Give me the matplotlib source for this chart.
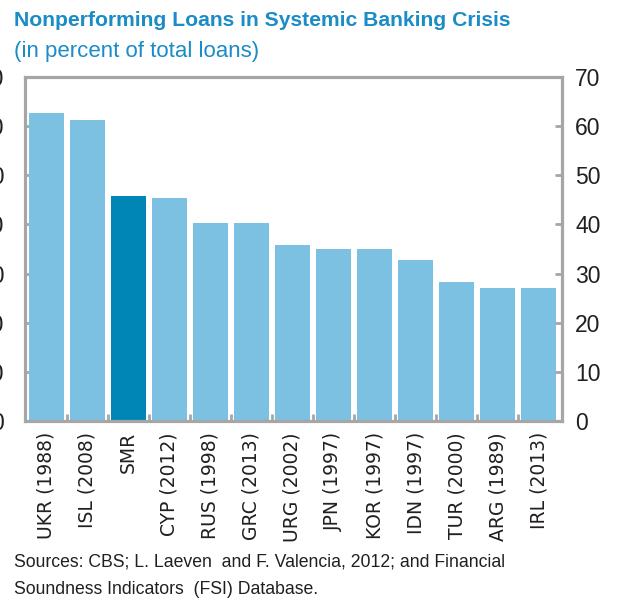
import matplotlib
matplotlib.use("Agg")
import matplotlib.pyplot as plt
import numpy as np

categories = ["UKR (1988)", "ISL (2008)", "SMR", "CYP (2012)", "RUS (1998)",
              "GRC (2013)", "URG (2002)", "JPN (1997)", "KOR (1997)",
              "IDN (1997)", "TUR (2000)", "ARG (1989)", "IRL (2013)"]
npl_share = [62.7, 61.2, 45.8, 45.3, 40.2, 40.2, 35.8, 34.9, 34.9, 32.8, 28.2, 27.1, 27.1]
y_ticks = [0, 10, 20, 30, 40, 50, 60, 70]
highlight = "SMR"

light_blue = "#7cc0e2"
dark_blue = "#0086b6"
title_blue = "#1a8cc6"
frame_gray = "#a6a6a6"
text_dark = "#231f20"

narrow = ["Liberation Sans Narrow", "Liberation Sans", "DejaVu Sans"]

fig = plt.figure(figsize=(6.21, 6.03), dpi=100)
ax = fig.add_axes([25 / 621, 1 - 421 / 603, (562 - 25) / 621, (421 - 77) / 603])

x = np.arange(len(categories))
colors = [dark_blue if c == highlight else light_blue for c in categories]
ax.bar(x, npl_share, width=0.86, color=colors, zorder=2)

ax.set_xlim(-0.52, len(categories) - 0.43)
ax.set_ylim(0, 70)

for s in ax.spines.values():
    s.set_color(frame_gray)
    s.set_linewidth(2.3)
    s.set_zorder(3)

# left scale (runs off the figure edge)
ax.set_yticks(y_ticks)
ax.set_yticklabels([str(v) for v in y_ticks], family=narrow)
ax.tick_params(axis="y", direction="in", length=5, width=2, color=frame_gray,
               left=True, labelsize=16.5, labelcolor=text_dark, pad=15)

# right scale
ax_r = ax.twinx()
ax_r.set_ylim(ax.get_ylim())
ax_r.set_yticks(y_ticks)
ax_r.set_yticklabels([str(v) for v in y_ticks], family=narrow)
ax_r.tick_params(axis="y", direction="in", length=5, width=2, color=frame_gray,
                 right=True, labelsize=16.5, labelcolor=text_dark, pad=9.5)
for s in ax_r.spines.values():
    s.set_visible(False)

ax.set_xticks(x)
ax.set_xticklabels(categories, rotation=90, fontsize=13.5, color=text_dark,
                   family=["DejaVu Sans"])
ax.tick_params(axis="x", which="major", length=0, pad=8)
ax.set_xticks(x[:-1] + 0.5, minor=True)
ax.tick_params(axis="x", which="minor", direction="in", length=5, width=2,
               color=frame_gray)

fig.text(14 / 621, 1 - 20 / 603, "Nonperforming Loans in Systemic Banking Crisis",
         fontsize=15.2, fontweight="bold", color=title_blue, family=narrow,
         va="center", ha="left")
fig.text(14 / 621, 1 - 52 / 603, "(in percent of total loans)",
         fontsize=16, color=title_blue, family=narrow, va="center", ha="left")

fig.text(14 / 621, 1 - 562 / 603,
         "Sources: CBS; L. Laeven  and F. Valencia, 2012; and Financial",
         fontsize=12.7, color=text_dark, family=["Liberation Sans", "DejaVu Sans"],
         va="center", ha="left")
fig.text(14 / 621, 1 - 590 / 603, "Soundness Indicators  (FSI) Database.",
         fontsize=12.7, color=text_dark, family=["Liberation Sans", "DejaVu Sans"],
         va="center", ha="left")

fig.savefig("out.png", dpi=100)
